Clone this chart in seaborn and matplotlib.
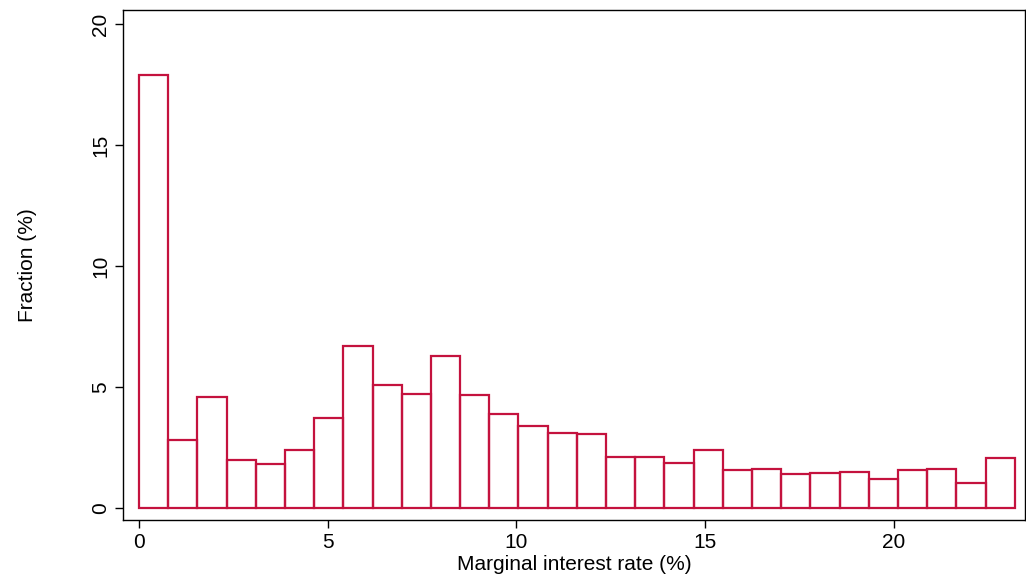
import numpy as np
import pandas as pd
import matplotlib
matplotlib.use("Agg")
import matplotlib.pyplot as plt
import seaborn as sns

# histogram bars (fraction %), 30 equal bins from 0 to ~23.2
fractions = [17.9, 2.8, 4.6, 2.0, 1.8, 2.4, 3.7, 6.7, 5.1, 4.7,
             6.3, 4.65, 3.9, 3.4, 3.1, 3.05, 2.1, 2.1, 1.85, 2.4,
             1.55, 1.6, 1.4, 1.45, 1.5, 1.2, 1.55, 1.6, 1.05, 2.05]
bin_lo, bin_hi = 0.0, 23.2
n_bins = len(fractions)
width = (bin_hi - bin_lo) / n_bins
centers = bin_lo + width * (np.arange(n_bins) + 0.5)
df = pd.DataFrame({"rate": centers, "frac": fractions})

sns.set_theme(style="white")
plt.rcParams["font.family"] = ["Liberation Sans", "DejaVu Sans"]

fig = plt.figure(figsize=(10.26, 5.85), dpi=100)
ax = fig.add_axes([0.12, 0.111, 0.879, 0.872])
sns.histplot(data=df, x="rate", weights="frac", bins=n_bins,
             binrange=(bin_lo, bin_hi), fill=False,
             color="#C4123E", linewidth=1.6, ax=ax)

ax.set_xlim(-0.42, 23.47)
ax.set_ylim(-0.5, 20.58)
ax.set_xticks([0, 5, 10, 15, 20])
ax.set_yticks([0, 5, 10, 15, 20])
ax.set_yticklabels(["0", "5", "10", "15", "20"], rotation=90, va="center")
ax.tick_params(axis="both", labelsize=15, length=6, width=1, direction="out",
               bottom=True, left=True, colors="black")
ax.set_xlabel("Marginal interest rate (%)", fontsize=15, labelpad=2, color="black")
ax.set_ylabel("Fraction (%)", fontsize=15, labelpad=39, color="black")
for s in ax.spines.values():
    s.set_color("black")
    s.set_linewidth(1)

fig.savefig("out.png", dpi=100)
